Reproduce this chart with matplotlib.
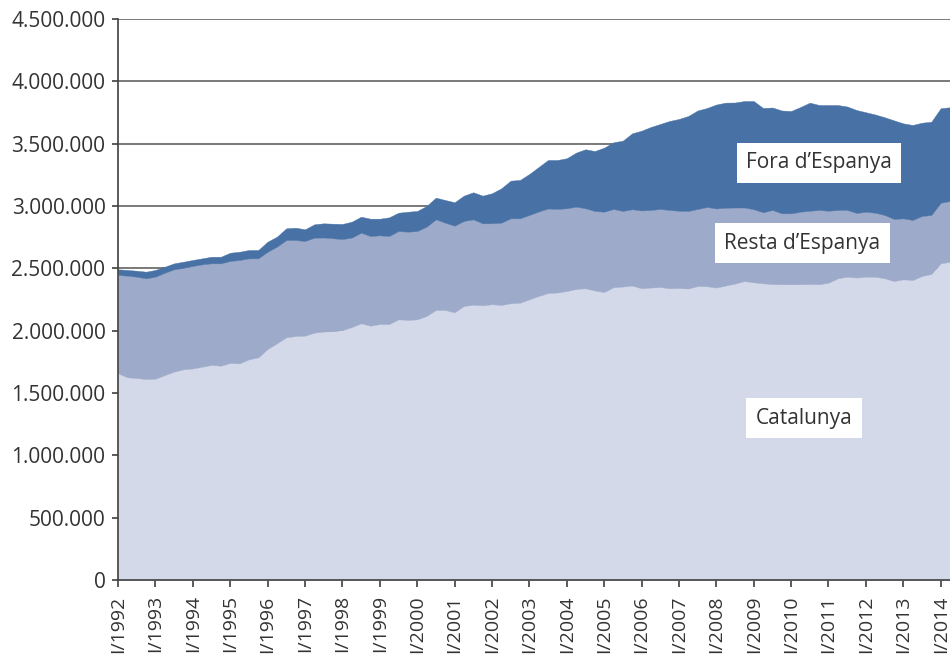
import matplotlib.pyplot as plt
from matplotlib.ticker import FuncFormatter

plt.rcParams['font.family'] = ['Open Sans', 'DejaVu Sans']

# Població per lloc de naixement, dades trimestrals (milers), I/1992 - II/2014
catalunya = [1658, 1626, 1620, 1612, 1615, 1644, 1671, 1690, 1697, 1711,
             1725, 1719, 1741, 1738, 1770, 1786, 1853, 1899, 1947, 1957,
             1960, 1984, 1993, 1997, 2005, 2029, 2059, 2040, 2053, 2053,
             2091, 2086, 2091, 2118, 2166, 2166, 2147, 2198, 2208, 2203,
             2212, 2206, 2220, 2224, 2252, 2278, 2302, 2306, 2318, 2334,
             2340, 2322, 2310, 2348, 2354, 2362, 2340, 2346, 2350, 2340,
             2342, 2338, 2358, 2356, 2346, 2362, 2378, 2398, 2388, 2380,
             2374, 2372, 2372, 2372, 2374, 2372, 2385, 2420, 2433, 2426,
             2433, 2433, 2420, 2398, 2412, 2406, 2439, 2455, 2540, 2553]

resta_espanya = [789, 815, 813, 808, 818, 821, 821, 815, 822, 821,
                 815, 821, 818, 829, 810, 794, 780, 775, 780, 770,
                 759, 762, 754, 744, 730, 717, 727, 719, 712, 706,
                 708, 708, 708, 716, 727, 700, 695, 682, 685, 658,
                 649, 660, 681, 677, 676, 678, 678, 670, 664, 660,
                 642, 638, 644, 628, 606, 612, 624, 622, 626, 628,
                 620, 622, 618, 636, 634, 624, 610, 590, 586, 570,
                 594, 569, 569, 582, 588, 596, 577, 548, 535, 518,
                 521, 513, 508, 498, 489, 482, 481, 473, 486, 487]

fora_espanya = [45, 46, 48, 53, 54, 48, 48, 48, 48, 48,
                53, 53, 66, 66, 67, 67, 81, 80, 94, 99,
                94, 107, 114, 117, 121, 128, 128, 139, 133, 150,
                147, 160, 161, 166, 174, 182, 188, 203, 217, 222,
                241, 276, 302, 308, 329, 357, 389, 393, 401, 434,
                473, 481, 514, 535, 564, 609, 640, 666, 682, 714,
                736, 762, 790, 794, 834, 843, 842, 854, 868, 836,
                822, 825, 821, 840, 867, 842, 848, 842, 830, 826,
                798, 788, 784, 791, 762, 762, 748, 748, 758, 752]

anys = list(range(1992, 2015))
etiquetes_x = ['I/%d' % a for a in anys]

n = len(catalunya)
trimestres = list(range(n))
cat = [v * 1000 for v in catalunya]
resta = [v * 1000 for v in resta_espanya]
fora = [v * 1000 for v in fora_espanya]

colors = ['#d3d9e8', '#9daaca', '#4872a5']

fig = plt.figure(figsize=(9.5, 6.54), dpi=100)
ax = fig.add_axes([118 / 950, 1 - 580 / 654, 1 - 118 / 950, (580 - 19) / 654])

ax.stackplot(trimestres, cat, resta, fora, colors=colors,
             edgecolor='face', linewidth=0.3, zorder=2)

# Eixos
ax.set_xlim(0, n - 1)
ax.set_ylim(0, 4500000)
ax.set_yticks(range(0, 4500001, 500000))
ax.yaxis.set_major_formatter(FuncFormatter(lambda v, p: f'{int(v):,}'.replace(',', '.')))
ax.set_xticks([4 * i for i in range(len(anys))])
ax.set_xticklabels(etiquetes_x, rotation=90, va='top')

ax.grid(axis='y', color='#555555', linewidth=1.1, zorder=1)
ax.set_axisbelow(True)
for s in ['top', 'right']:
    ax.spines[s].set_visible(False)
for s in ['left', 'bottom']:
    ax.spines[s].set_color('#404040')
    ax.spines[s].set_linewidth(1.2)
    ax.spines[s].set_zorder(3)

ax.tick_params(axis='y', length=4, width=1.2, color='#404040', pad=5,
               labelsize=15, labelcolor='#333333')
ax.tick_params(axis='x', length=5, width=1.2, color='#404040', pad=6,
               labelsize=14, labelcolor='#333333')

# Etiquetes de les sèries
caixa = dict(boxstyle='square,pad=0.45', facecolor='white', edgecolor='none')
ax.text(75.0, 3345000, 'Fora d\u2019Espanya', fontsize=15, color='#333333',
        ha='center', va='center', bbox=caixa, zorder=4)
ax.text(73.2, 2703000, 'Resta d\u2019Espanya', fontsize=15, color='#333333',
        ha='center', va='center', bbox=caixa, zorder=4)
ax.text(73.4, 1299000, 'Catalunya', fontsize=15, color='#333333',
        ha='center', va='center', bbox=caixa, zorder=4)

fig.savefig('out.png', dpi=100)
plt.close(fig)
